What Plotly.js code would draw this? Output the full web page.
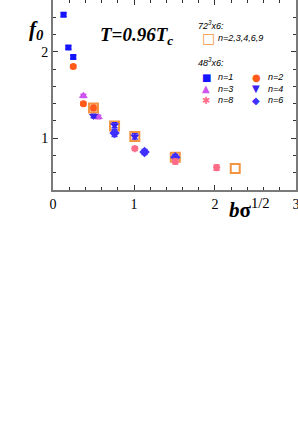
<!DOCTYPE html>
<html><head><meta charset="utf-8">
<script src="https://cdn.plot.ly/plotly-3.0.1.min.js"></script>
<style>body{margin:0;background:#fff}#chart{width:298px;height:448px}</style>
</head><body><div id="chart"></div>
<script>
// 48^3x6 series
const n1_x = [0.13, 0.19, 0.25];
const n1_y = [2.43, 2.05, 1.94];
const n1_e = [0.02, 0.02, 0.02];
const n2_x = [0.25, 0.375, 0.5];
const n2_y = [1.83, 1.40, 1.35];
const n2_e = [0.02, 0.02, 0.03];
const n3_x = [0.375, 0.56];
const n3_y = [1.49, 1.245];
const n3_e = [0.02, 0.02];
const n4_x = [0.5, 0.76, 1.01];
const n4_y = [1.256, 1.15, 1.02];
const n4_e = [0.02, 0.03, 0.03];
const n6_x = [0.76, 1.13, 1.51];
const n6_y = [1.06, 0.84, 0.78];
const n6_e = [0.04, 0.03, 0.03];
const n8_x = [1.01, 1.51, 2.02];
const n8_y = [0.88, 0.73, 0.66];
const n8_e = [0.02, 0.03, 0.03];
// 72^3x6
const l72_x = [0.5, 0.76, 1.01, 1.51, 2.25];
const l72_y = [1.35, 1.14, 1.02, 0.78, 0.65];

const xTicks = [0, 1, 2, 3];
const yTicks = [1, 2];

const cBlue = '#1414ff', cOrange = '#ff5a1a', cMag = '#cc55ee', cBlue4 = '#3a22ee', cDia = '#4030ff', cPink = '#ff6a88', cSq = '#f39540';

function tr(x, y, e, color, symbol, size, lw) {
  return {x: x, y: y, type: 'scatter', mode: 'markers',
    marker: {color: color, symbol: symbol, size: size, line: {color: color, width: lw || 0}},
    error_y: {type: 'data', array: e, visible: true, color: color, thickness: 1.5, width: 3},
    showlegend: false, hoverinfo: 'skip'};
}

const data = [
  {x: l72_x, y: l72_y, type: 'scatter', mode: 'markers', showlegend: false,
   marker: {symbol: 'square-open', size: 9, color: cSq, line: {color: cSq, width: 2}}},
  tr(n1_x, n1_y, n1_e, cBlue, 'square', 6),
  tr(n2_x, n2_y, n2_e, cOrange, 'circle', 7),
  tr(n3_x, n3_y, n3_e, cMag, 'triangle-up', 8),
  tr(n4_x, n4_y, n4_e, cBlue4, 'triangle-down', 8),
  tr(n6_x, n6_y, n6_e, cDia, 'diamond', 8),
  tr(n8_x, n8_y, n8_e, cPink, 'asterisk-open', 6, 2)
];

const serif = 'Liberation Serif, Times New Roman, serif';
const sans = 'Liberation Sans, Arial, sans-serif';

// legend (manual)
const legTxt = ['n=1', 'n=2', 'n=3', 'n=4', 'n=8', 'n=6'];
const legGlyph = ['■', '●', '▲', '▼', '✱', '◆'];
const legCol = [cBlue, cOrange, cMag, cBlue4, cPink, cDia];

const ann = [];
function px(x, y, text, opts) {
  ann.push(Object.assign({xref: 'paper', yref: 'paper', x: (x - 53) / 243, y: (190 - y) / 190,
    text: text, showarrow: false, xanchor: 'left', yanchor: 'middle', borderpad: 0,
    font: {family: sans, size: 9, color: '#000'}}, opts || {}));
}
px(197, 25, '<i>72<sup>3</sup>x6:</i>');
px(201, 38, '□', {font: {family: 'DejaVu Sans', size: 14, color: cSq}});
px(217, 38, '<i>n=2,3,4,6,9</i>');
px(197, 62, '<i>48<sup>3</sup>x6:</i>');
for (let i = 0; i < legTxt.length; i++) {
  const col = i % 2, row = Math.floor(i / 2);
  const xm = col === 0 ? 201 : 251, xt = col === 0 ? 217 : 267;
  const y = 77 + row * 11.5;
  px(xm, y, legGlyph[i], {font: {family: 'DejaVu Sans', size: 10, color: legCol[i]}});
  px(xt, y, '<i>' + legTxt[i] + '</i>');
}
px(28, 30, '<b><i>f</i></b><sub><b><i>0</i></b></sub>', {font: {family: serif, size: 21, color: '#000'}});
px(99, 36, '<b><i>T=0.96T</i></b><sub><b><i>c</i></b></sub>', {font: {family: serif, size: 19, color: '#000'}});
px(228, 208, '<b><i>b</i>σ</b><sup>1/2</sup>', {font: {family: serif, size: 21, color: '#000'}});

const axisCommon = {
  showline: true, linecolor: '#7a7a7a', linewidth: 2, mirror: 'ticks',
  ticks: 'inside', ticklen: 5, tickwidth: 1, tickcolor: '#333',
  showgrid: false, zeroline: false, ticklabeloverflow: 'allow',
  tickfont: {family: serif, size: 14, color: '#000'},
  minor: {dtick: 0.2, ticks: 'inside', ticklen: 3, tickcolor: '#333', showgrid: false}
};

const layout = {
  width: 298, height: 448,
  margin: {l: 53, r: 2, t: 0, b: 258},
  paper_bgcolor: '#fff', plot_bgcolor: '#fff',
  showlegend: false,
  xaxis: Object.assign({}, axisCommon, {range: [0, 3.0001], tickvals: xTicks, ticktext: xTicks.map(String)}),
  yaxis: Object.assign({}, axisCommon, {range: [0.4, 2.6], tickvals: yTicks, ticktext: yTicks.map(String)}),
  annotations: ann
};

Plotly.newPlot('chart', data, layout, {staticPlot: true, displayModeBar: false});
</script></body></html>
